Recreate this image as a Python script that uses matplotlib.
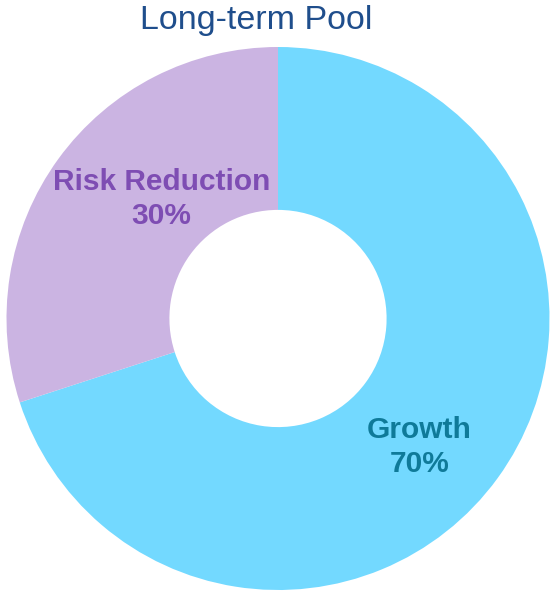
import matplotlib
matplotlib.use("Agg")
import matplotlib.pyplot as plt

labels = ["Growth", "Risk Reduction"]
shares = [70, 30]
colors = ["#73D9FF", "#CBB4E2"]
text_colors = ["#0F7A99", "#7E4DB3"]

plt.rcParams['font.family'] = ['Liberation Sans', 'DejaVu Sans']

fig = plt.figure(figsize=(5.52, 5.97), dpi=100)
ax = fig.add_axes([5 / 552, 7 / 597, 546 / 552, 543 / 597])

wedges, _ = ax.pie(shares, colors=colors, startangle=90, counterclock=False,
                   radius=1.0, wedgeprops=dict(width=0.6, edgecolor='none'))
ax.set_aspect('equal')
ax.set_xlim(-1, 1)
ax.set_ylim(-1, 1)

# label positions (data coords)
label_pos = [(0.52, -0.475), (-0.43, 0.44)]
for lab, val, (x, y), c in zip(labels, shares, label_pos, text_colors):
    ax.text(x, y, f"{lab}\n{val}%", ha='center', va='center', color=c,
            fontsize=21.5, fontweight='bold', linespacing=1.27)

fig.text(0.465, 0.966, "Long-term Pool", ha='center', va='center',
         color="#1F4E8C", fontsize=24.5)

fig.savefig("out.png", dpi=100)
